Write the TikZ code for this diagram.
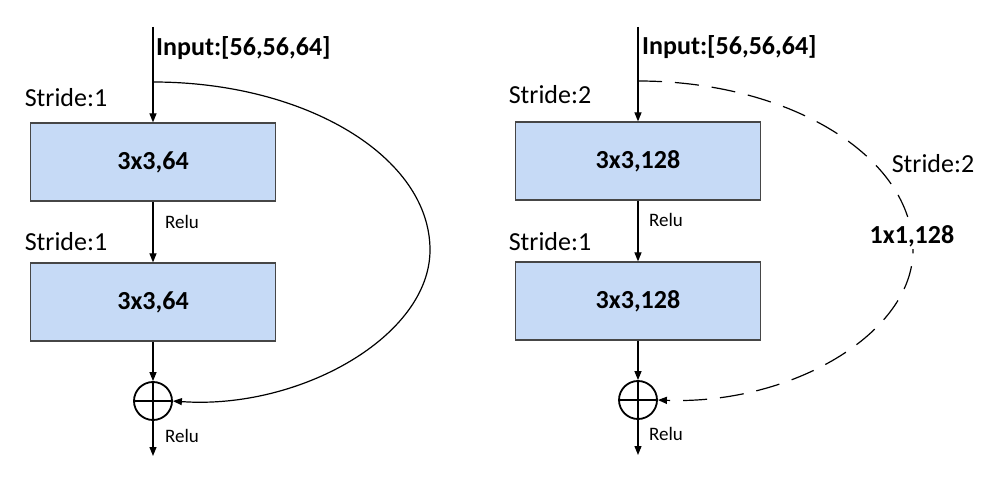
\documentclass[tikz,border=0pt]{standalone}
\usepackage{fontspec}
\setmainfont{Carlito}
\usetikzlibrary{positioning,arrows.meta}

\definecolor{blockfill}{RGB}{198,218,246}
\definecolor{blockline}{RGB}{70,70,70}

\begin{document}
\begin{tikzpicture}[
    x=1pt, y=-1pt,
    font=\fontsize{26}{30}\selectfont,
    block/.style={draw=blockline, fill=blockfill, line width=1.2pt, minimum width=245pt, minimum height=78pt, font=\fontsize{26}{30}\selectfont\bfseries},
    sumnode/.style={draw, circle, line width=1.8pt, minimum size=38pt, inner sep=0pt,
        path picture={\draw[line width=1.8pt] (path picture bounding box.north) -- (path picture bounding box.south)
            (path picture bounding box.west) -- (path picture bounding box.east);}},
    lbl/.style={inner sep=0pt},
    small/.style={inner sep=0pt, font=\fontsize{19}{22}\selectfont},
    arrow/.style={-{Triangle[length=9pt,width=7pt]}, line width=1.2pt},
    skip/.style={-{Triangle[length=9pt,width=7pt]}, line width=1.2pt, dash pattern=on 24pt off 13pt}
]
\useasboundingbox (0,0) rectangle (994,486);

% plain block
\coordinate (inA) at (153,27);
\coordinate (splitA) at (153,82);
\node[block] (convA1) at (153,162) {3x3,64};
\node[block] (convA2) at (153,302) {3x3,64};
\node[sumnode] (sumA) at (153,401) {};
\coordinate (outA) at (153,456);

\node[lbl, anchor=west, font=\fontsize{26}{30}\selectfont\bfseries] (inputA) at (156,48) {Input:[56,56,64]};
\node[lbl] (strideA1) at (66,98) {Stride:1};
\node[lbl] (strideA2) at (66,242) {Stride:1};
\node[small] (reluA1) at (182,222) {Relu};
\node[small] (reluA2) at (182,436) {Relu};

\draw[arrow] (inA) -- (convA1);
\draw[arrow] (convA1) -- (convA2);
\draw[arrow] (convA2) -- (sumA);
\draw[arrow] (sumA) -- (outA);
\draw[arrow] (splitA) .. controls (306,82) and (430,157) .. (430,250)
    .. controls (430,336) and (300,410) .. (sumA.east);

% downsampling block
\coordinate (inB) at (638,27);
\coordinate (splitB) at (638,81);
\node[block] (convB1) at (638,161) {3x3,128};
\node[block] (convB2) at (638,301) {3x3,128};
\node[sumnode] (sumB) at (638,400) {};
\coordinate (outB) at (638,455);

\node[lbl, anchor=west, font=\fontsize{26}{30}\selectfont\bfseries] (inputB) at (642,47) {Input:[56,56,64]};
\node[lbl] (strideB1) at (550,95) {Stride:2};
\node[lbl] (strideB2) at (550,242) {Stride:1};
\node[small] (reluB1) at (666,220) {Relu};
\node[small] (reluB2) at (666,434) {Relu};
\node[lbl] (strideS) at (933,164) {Stride:2};

\draw[arrow] (inB) -- (convB1);
\draw[arrow] (convB1) -- (convB2);
\draw[arrow] (convB2) -- (sumB);
\draw[arrow] (sumB) -- (outB);
\draw[skip] (splitB) .. controls (790,81) and (913,157) .. (913,250)
    .. controls (913,334) and (790,405) .. (sumB.east);
\node[lbl, fill=white, inner sep=2pt, font=\fontsize{26}{30}\selectfont\bfseries] (projB) at (912,236) {1x1,128};
\end{tikzpicture}
\end{document}
